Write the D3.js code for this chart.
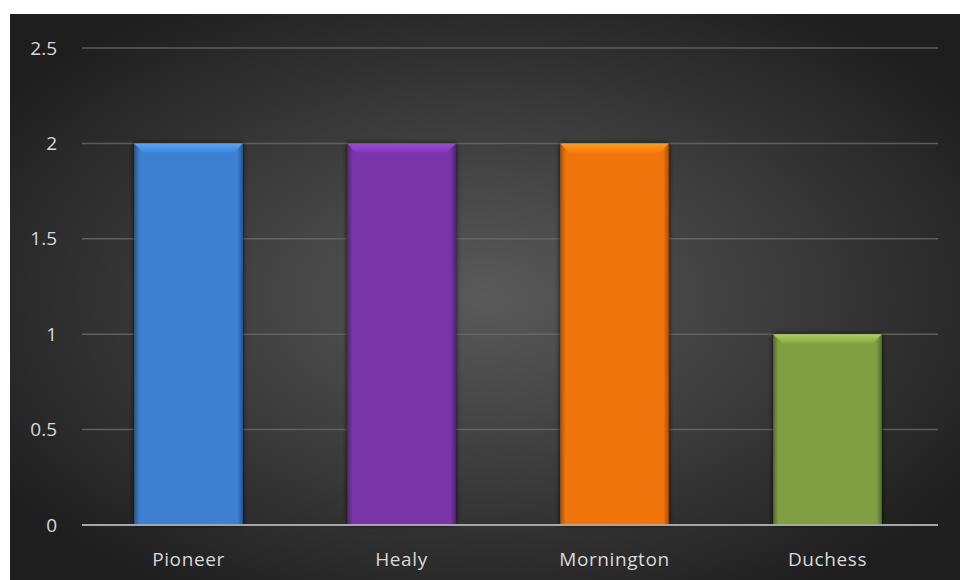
<!DOCTYPE html>
<html lang="en">
<head>
<meta charset="UTF-8">
<title>Bar chart</title>
<style>
  body, html { margin: 0; padding: 0; background: #fff; }
  svg { display: block; font-family: "Open Sans", "Noto Sans", sans-serif; }
</style>
</head>
<body>
<svg id="svg" width="960" height="580"></svg>
<script src="https://d3js.org/d3.v7.min.js"></script>
<script>
const categories = ["Pioneer", "Healy", "Mornington", "Duchess"]
const values = [2, 2, 2, 1]
const barColors = ["#3d7fd1", "#7a36a9", "#f0750f", "#7f9f43"]
const yTicks = [0, 0.5, 1, 1.5, 2, 2.5]

const svg = d3.select('#svg')
const margin = { top: 48, right: 22, bottom: 55, left: 82 }
const W = 960, H = 580

const defs = svg.append('defs')

// radial background
const bg = defs.append('radialGradient').attr('id', 'bg')
  .attr('cx', '50%').attr('cy', '50%').attr('r', '62%')
bg.append('stop').attr('offset', '0%').attr('stop-color', '#5a5a5a')
bg.append('stop').attr('offset', '100%').attr('stop-color', '#1e1e1e')

// shading for bar edges and top bevel
categories.forEach((c, i) => {
  const col = d3.color(barColors[i])
  const g = defs.append('linearGradient').attr('id', 'side' + i)
    .attr('x1', '0%').attr('x2', '100%')
  g.append('stop').attr('offset', '0%').attr('stop-color', col.darker(1.1))
  g.append('stop').attr('offset', '5%').attr('stop-color', col)
  g.append('stop').attr('offset', '95%').attr('stop-color', col)
  g.append('stop').attr('offset', '100%').attr('stop-color', col.darker(1.1))
  const t = defs.append('linearGradient').attr('id', 'top' + i)
    .attr('x1', '0%').attr('x2', '0%').attr('y1', '0%').attr('y2', '100%')
  t.append('stop').attr('offset', '0%').attr('stop-color', col.brighter(0.8))
  t.append('stop').attr('offset', '100%').attr('stop-color', col.brighter(0.15))
})

defs.append('filter').attr('id', 'shadow')
  .attr('x', '-10%').attr('y', '-10%').attr('width', '120%').attr('height', '120%')
  .append('feDropShadow').attr('dx', 0).attr('dy', 0).attr('stdDeviation', 2.5)
  .attr('flood-color', '#000').attr('flood-opacity', 0.85)

svg.append('rect')
  .attr('x', 10).attr('y', 14).attr('width', W - 10).attr('height', H - 14)
  .attr('fill', 'url(#bg)')

// bands span slightly less than the gridlines
const x = d3.scaleBand()
  .domain(categories)
  .range([margin.left, W - margin.right - 4])
  .paddingInner(0.49)
  .paddingOuter(0.245)

const y = d3.scaleLinear()
  .domain([0, 2.5])
  .range([H - margin.bottom, margin.top])

// gridlines
svg.append('g')
  .selectAll('line')
  .data(yTicks.filter(d => d > 0))
  .enter()
  .append('line')
  .attr('x1', margin.left).attr('x2', W - margin.right)
  .attr('y1', d => y(d)).attr('y2', d => y(d))
  .attr('stroke', '#6a6a6a').attr('stroke-opacity', 0.8).attr('stroke-width', 1.5)

// bars
const bars = svg.append('g')
  .selectAll('g')
  .data(categories.map((c, i) => ({ c, v: values[i], i })))
  .enter()
  .append('g')

bars.append('rect')
  .attr('x', d => x(d.c))
  .attr('y', d => y(d.v))
  .attr('width', x.bandwidth())
  .attr('height', d => y(0) - y(d.v))
  .attr('fill', d => `url(#side${d.i})`)
  .attr('filter', 'url(#shadow)')

// top bevel
bars.append('path')
  .attr('d', d => {
    const x0 = x(d.c), x1 = x0 + x.bandwidth(), yt = y(d.v), b = 9
    return `M${x0},${yt}L${x1},${yt}L${x1 - b},${yt + b}L${x0 + b},${yt + b}Z`
  })
  .attr('fill', d => `url(#top${d.i})`)

// baseline
svg.append('line')
  .attr('x1', margin.left).attr('x2', W - margin.right)
  .attr('y1', y(0)).attr('y2', y(0))
  .attr('stroke', '#a6a6a6').attr('stroke-width', 2)

// y labels
svg.append('g')
  .selectAll('text')
  .data(yTicks)
  .enter()
  .append('text')
  .attr('x', 57)
  .attr('y', d => y(d))
  .attr('dy', '0.35em')
  .attr('text-anchor', 'end')
  .attr('fill', '#d9d9d9')
  .attr('font-size', '19px')
  .text(d => d)

// x labels
svg.append('g')
  .selectAll('text')
  .data(categories)
  .enter()
  .append('text')
  .attr('x', d => x(d) + x.bandwidth() / 2)
  .attr('y', 559)
  .attr('dy', '0.35em')
  .attr('text-anchor', 'middle')
  .attr('fill', '#d9d9d9')
  .attr('font-size', '19px')
  .attr('letter-spacing', '0.6px')
  .text(d => d)
</script>
</body>
</html>
